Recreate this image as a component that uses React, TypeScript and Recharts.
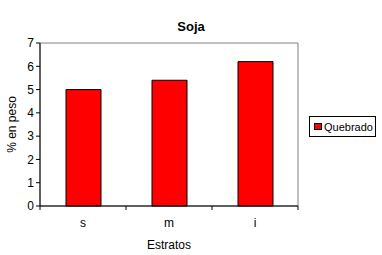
import { Bar, BarChart, ReferenceArea, XAxis, YAxis } from "recharts"

const estratos = ["s", "m", "i"]
const quebrado = [5.0, 5.4, 6.2]
const yTicks = [0, 1, 2, 3, 4, 5, 6, 7]

const data = estratos.map((name, i) => ({ name, quebrado: quebrado[i] }))

const font = "'Liberation Sans', Arial, sans-serif"

function CategoryTick(props: any) {
  const { x, y, payload, index, visibleTicksCount } = props
  const half = payload.offset || 0
  return (
    <g>
      <line x1={x - half} x2={x - half} y1={y - 8} y2={y - 4} stroke="#000" />
      {index === visibleTicksCount - 1 && (
        <line x1={x + half} x2={x + half} y1={y - 8} y2={y - 4} stroke="#000" />
      )}
      <text x={x} y={y + 13} textAnchor="middle" fontSize={12} fill="#000" fontFamily={font}>
        {payload.value}
      </text>
    </g>
  )
}

function LegendBox() {
  return (
    <div
      style={{
        position: "absolute",
        left: 309,
        top: 116,
        border: "1px solid #000",
        width: 67,
        height: 21,
        display: "flex",
        alignItems: "center",
        fontFamily: font,
        fontSize: 11,
        boxSizing: "border-box",
        background: "#fff",
        whiteSpace: "nowrap",
      }}
    >
      <span
        style={{
          display: "inline-block",
          flexShrink: 0,
          width: 6,
          height: 5,
          background: "#ff0000",
          border: "1px solid #000",
          marginLeft: 4,
          marginRight: 2,
        }}
      />
      Quebrado
    </div>
  )
}

export default function App() {
  return (
    <div style={{ position: "absolute", left: 0, top: 0, width: 382, height: 255, background: "#fff" }}>
      <div
        style={{
          position: "absolute",
          left: 0,
          width: 382,
          top: 19,
          textAlign: "center",
          fontFamily: font,
          fontWeight: "bold",
          fontSize: 13,
        }}
      >
        Soja
      </div>
      <BarChart
        width={382}
        height={255}
        data={data}
        margin={{ top: 43, right: 84, left: 0, bottom: 0 }}
        barCategoryGap={0}
      >
        <ReferenceArea y1={0} y2={7} stroke="#808080" fill="none" ifOverflow="extendDomain" />
        <XAxis
          dataKey="name"
          height={49}
          stroke="#000"
          tickLine={false}
          tick={<CategoryTick />}
          interval={0}
          label={{ value: "Estratos", position: "insideBottom", offset: 6, fontSize: 12, fill: "#000", fontFamily: font }}
        />
        <YAxis
          width={40}
          domain={[0, 7]}
          ticks={yTicks}
          stroke="#000"
          tickSize={4}
          tick={{ fontSize: 12, fill: "#000", fontFamily: font }}
          label={{
            value: "% en peso",
            angle: -90,
            position: "insideLeft",
            offset: 12,
            style: { textAnchor: "middle" },
            fontSize: 12,
            fill: "#000",
            fontFamily: font,
          }}
        />
        <Bar dataKey="quebrado" fill="#ff0000" stroke="#000" strokeWidth={1} barSize={35} isAnimationActive={false} />
      </BarChart>
      <LegendBox />
    </div>
  )
}
